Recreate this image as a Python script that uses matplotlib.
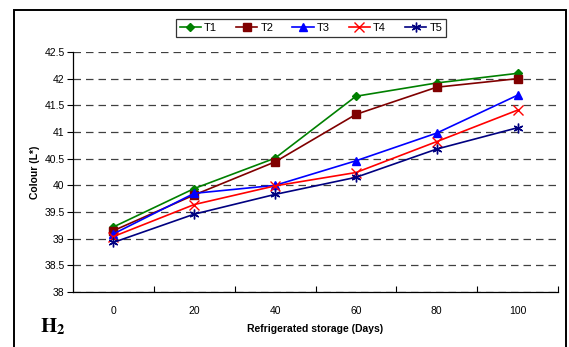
import matplotlib
matplotlib.use("Agg")
import matplotlib.pyplot as plt
from matplotlib.patches import Rectangle
import numpy as np

days = ["0", "20", "40", "60", "80", "100"]
T1 = [39.22, 39.94, 40.51, 41.67, 41.92, 42.10]
T2 = [39.15, 39.82, 40.44, 41.33, 41.84, 42.00]
T3 = [39.09, 39.85, 40.00, 40.46, 40.98, 41.69]
T4 = [39.04, 39.64, 39.99, 40.24, 40.82, 41.41]
T5 = [38.93, 39.46, 39.83, 40.15, 40.68, 41.08]
series_names = ["T1", "T2", "T3", "T4", "T5"]
yticks = [38, 38.5, 39, 39.5, 40, 40.5, 41, 41.5, 42, 42.5]

plt.rcParams['font.family'] = ['Liberation Sans', 'DejaVu Sans']
plt.rcParams['mathtext.fontset'] = 'stix'

fig = plt.figure(figsize=(5.69, 3.47), dpi=100)
ax = fig.add_axes([73/569, 1-292/347, (558-73)/569, (292-52)/347])

x = np.arange(len(days))
styles = [
    dict(color='#008000', marker='D', ms=4.5),
    dict(color='#800000', marker='s', ms=5.5),
    dict(color='#0000FF', marker='^', ms=6),
    dict(color='#FF0000', marker='x', ms=6.5, mew=1.0),
    dict(color='#000080', marker=(6, 2, 0), ms=7, mew=1.0),
]
for name, vals, st in zip(series_names, [T1, T2, T3, T4, T5], styles):
    ax.plot(x, vals, lw=1.2, label=name, **st)

ax.set_xlim(-0.5, len(days) - 0.5)
ax.set_ylim(38, 42.5)
ax.set_yticks(yticks)
ax.set_yticklabels([f"{v:g}" for v in yticks], fontsize=7.5)
ax.set_xticks(x)
ax.set_xticklabels(days, fontsize=7.5)
ax.set_xticks(np.arange(0.5, len(days), 1.0), minor=True)
ax.tick_params(axis='x', which='major', length=0, pad=10)
ax.tick_params(axis='x', which='minor', direction='in', length=4, width=0.8)
ax.tick_params(axis='y', direction='out', length=4, width=0.8, pad=2)

for s in ['top', 'right']:
    ax.spines[s].set_visible(False)
for s in ['left', 'bottom']:
    ax.spines[s].set_linewidth(0.9)

ax.yaxis.grid(True, linestyle=(0, (6, 4)), color='#404040', lw=0.9)
ax.set_axisbelow(True)

ax.set_ylabel("Colour (L*)", fontsize=7.5, fontweight='bold', labelpad=3)
ax.set_xlabel("Refrigerated storage (Days)", fontsize=7.5, fontweight='bold', labelpad=6)

leg = fig.legend(loc='center', bbox_to_anchor=(311/569, 1-28/347), ncol=5,
                 fontsize=8, frameon=True, fancybox=False, edgecolor='black',
                 handlelength=1.9, columnspacing=1.7, handletextpad=0.3,
                 borderpad=0.35)
leg.get_frame().set_linewidth(0.9)

fig.text(40/569, 1-327/347, r'$\mathbf{H}_{\mathbf{2}}$', fontsize=15, va='center', ha='left')

rect = Rectangle((14/569, -0.2), (566-14)/569, 1.2 - 10/347, transform=fig.transFigure,
                 fill=False, edgecolor='black', lw=1.4)
fig.patches.append(rect)

fig.savefig("out.png", dpi=100)
